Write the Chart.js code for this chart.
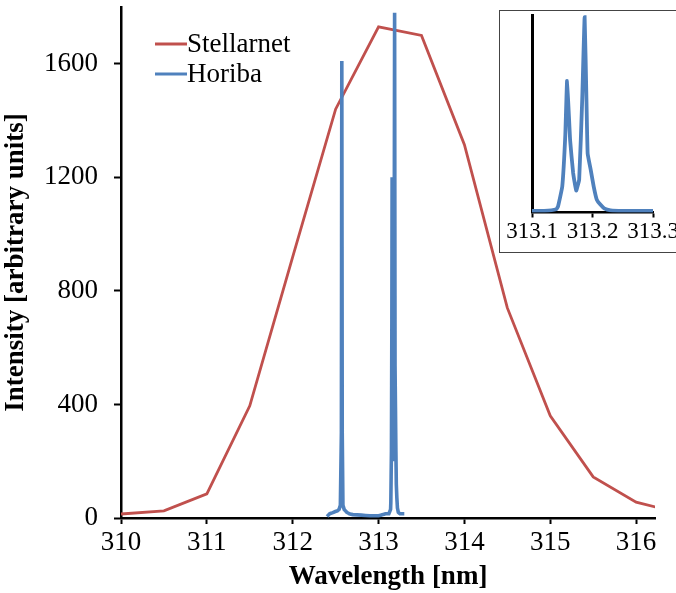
<!DOCTYPE html>
<html>
<head>
<meta charset="utf-8">
<script src="https://cdn.jsdelivr.net/npm/chart.js@4.4.1/dist/chart.umd.min.js"></script>
<style>
  html, body { margin: 0; padding: 0; background: #fff; overflow: hidden; }
  #wrap { position: relative; width: 676px; height: 593px; }
  #mainChart { position: absolute; left: 0; top: 0; }
  #inset {
    position: absolute; left: 499px; top: 10px;
    width: 190px; height: 243px;
    box-sizing: border-box; border: 1.5px solid #444; background: #fff;
  }
  #insetChart { position: absolute; left: 0; top: 0; }
</style>
</head>
<body>
<div id="wrap">
  <canvas id="mainChart" width="676" height="593"></canvas>
  <div id="inset"><canvas id="insetChart" width="177" height="240"></canvas></div>
</div>
<script>
// Stellarnet spectrometer, 0.5 nm sampling
const stellarWl = [310, 310.5, 311, 311.5, 312, 312.5, 313, 313.5, 314, 314.5, 315, 315.5, 316, 316.5];
const stellarInt = [14, 25, 85, 395, 920, 1440, 1730, 1700, 1315, 740, 360, 145, 56, 18];

// Horiba spectrometer, high resolution
const horibaWl = [312.40, 312.43, 312.46, 312.49, 312.52, 312.54, 312.555, 312.567, 312.572, 312.577, 312.585,
  312.60, 312.63, 312.66, 312.70, 312.80, 312.90, 313.00, 313.05, 313.08, 313.10, 313.12, 313.14, 313.143,
  313.150, 313.155, 313.158, 313.163, 313.168, 313.173, 313.178, 313.183, 313.187, 313.190, 313.192,
  313.197, 313.202, 313.207, 313.213, 313.220, 313.230, 313.250, 313.270, 313.300];
const horibaInt = [5, 15, 18, 22, 25, 30, 45, 300, 1610, 300, 45,
  30, 20, 15, 12, 10, 8, 8, 12, 15, 15, 15, 30, 55,
  236, 700, 1200, 660, 360, 200, 300, 1030, 1780, 1030, 536,
  390, 236, 118, 72, 35, 20, 15, 15, 15];

const xTicksMain = [310, 311, 312, 313, 314, 315, 316];
const yTicksMain = [0, 400, 800, 1200, 1600];
const xTicksInset = [313.1, 313.2, 313.3];

const RED = '#C0504D';
const BLUE = '#4F81BD';
const FONT = '"Liberation Serif", "Times New Roman", serif';

function toPoints(xs, ys) {
    return xs.map((x, i) => ({ x: x, y: ys[i] }));
}

// keep the plot area fixed: no extra room for overhanging tick labels
function noPadding(s) {
    s.paddingLeft = 0;
    s.paddingRight = 0;
    s.paddingTop = 0;
    s.paddingBottom = 0;
}

// legend drawn inside the plot area, top left
const innerLegend = {
    id: 'innerLegend',
    afterDraw(chart) {
        const ctx = chart.ctx;
        const names = ['Stellarnet', 'Horiba'];
        ctx.save();
        ctx.font = '27px ' + FONT;
        ctx.textBaseline = 'middle';
        names.forEach((name, i) => {
            const ds = chart.data.datasets.find(d => d.label === name);
            const y = 44 + i * 30;
            ctx.strokeStyle = ds.borderColor;
            ctx.lineWidth = 3;
            ctx.beginPath();
            ctx.moveTo(155, y);
            ctx.lineTo(187, y);
            ctx.stroke();
            ctx.fillStyle = '#000';
            ctx.fillText(name, 187, y + 1);
        });
        ctx.restore();
    }
};

// a tiny tension keeps Chart.js off its per-pixel fast path, so the
// narrow emission spikes keep their full stroke width
const mainChart = new Chart(document.getElementById('mainChart'), {
    type: 'line',
    data: {
        datasets: [
            {
                label: 'Stellarnet',
                data: toPoints(stellarWl, stellarInt),
                borderColor: RED,
                borderWidth: 2.8,
                pointRadius: 0,
                tension: 0,
                order: 1
            },
            {
                label: 'Horiba',
                data: toPoints(horibaWl, horibaInt),
                borderColor: BLUE,
                borderWidth: 3.6,
                pointRadius: 0,
                tension: 0.0001,
                order: 0
            }
        ]
    },
    options: {
        responsive: false,
        animation: false,
        devicePixelRatio: 1,
        layout: { padding: { left: 0, top: 7, right: 21, bottom: 0 } },
        plugins: { legend: { display: false }, tooltip: { enabled: false } },
        scales: {
            x: {
                type: 'linear',
                min: 310,
                max: 316.22,
                afterFit: s => { s.height = 75; noPadding(s); },
                afterBuildTicks: s => { s.ticks = xTicksMain.map(v => ({ value: v })); },
                ticks: { color: '#000', font: { family: FONT, size: 27 }, padding: 3, maxRotation: 0,
                    callback: v => String(v) },
                grid: { drawOnChartArea: false, color: '#000', tickLength: 6, tickWidth: 2 },
                border: { color: '#000', width: 2.5 },
                title: { display: true, text: 'Wavelength [nm]', color: '#000',
                    font: { family: FONT, size: 27, weight: 'bold' }, padding: { top: 0, bottom: 0 } }
            },
            y: {
                min: 0,
                max: 1800,
                afterFit: s => { s.width = 121; noPadding(s); },
                afterBuildTicks: s => { s.ticks = yTicksMain.map(v => ({ value: v })); },
                ticks: { color: '#000', font: { family: FONT, size: 27 }, padding: 16,
                    callback: v => String(v) },
                grid: { drawOnChartArea: false, color: '#000', tickLength: 7, tickWidth: 2 },
                border: { color: '#000', width: 2.5 },
                title: { display: true, text: 'Intensity [arbitrary units]', color: '#000',
                    font: { family: FONT, size: 27, weight: 'bold' }, padding: { top: 0, bottom: 8 } }
            }
        }
    },
    plugins: [innerLegend]
});

// zoom on the 313.1 - 313.3 nm doublet
const insetChart = new Chart(document.getElementById('insetChart'), {
    type: 'line',
    data: {
        datasets: [{
            label: 'Horiba',
            data: toPoints(horibaWl, horibaInt),
            borderColor: BLUE,
            borderWidth: 3.8,
            pointRadius: 0,
            tension: 0.1
        }]
    },
    options: {
        responsive: false,
        animation: false,
        devicePixelRatio: 1,
        layout: { padding: { left: 0, top: 4, right: 24, bottom: 0 } },
        plugins: { legend: { display: false }, tooltip: { enabled: false } },
        scales: {
            x: {
                type: 'linear',
                min: 313.1,
                max: 313.3,
                afterFit: s => { s.height = 38.5; noPadding(s); },
                afterBuildTicks: s => { s.ticks = xTicksInset.map(v => ({ value: v })); },
                ticks: { color: '#000', font: { family: FONT, size: 23 }, padding: 1, maxRotation: 0,
                    callback: v => v.toFixed(1) },
                grid: { drawOnChartArea: false, color: '#000', tickLength: 5, tickWidth: 2 },
                border: { color: '#000', width: 2.5 }
            },
            y: {
                min: 0,
                max: 1800,
                afterFit: s => { s.width = 32; noPadding(s); },
                ticks: { display: false },
                grid: { drawOnChartArea: false, drawTicks: false },
                border: { color: '#000', width: 3 }
            }
        }
    }
});
</script>
</body>
</html>
